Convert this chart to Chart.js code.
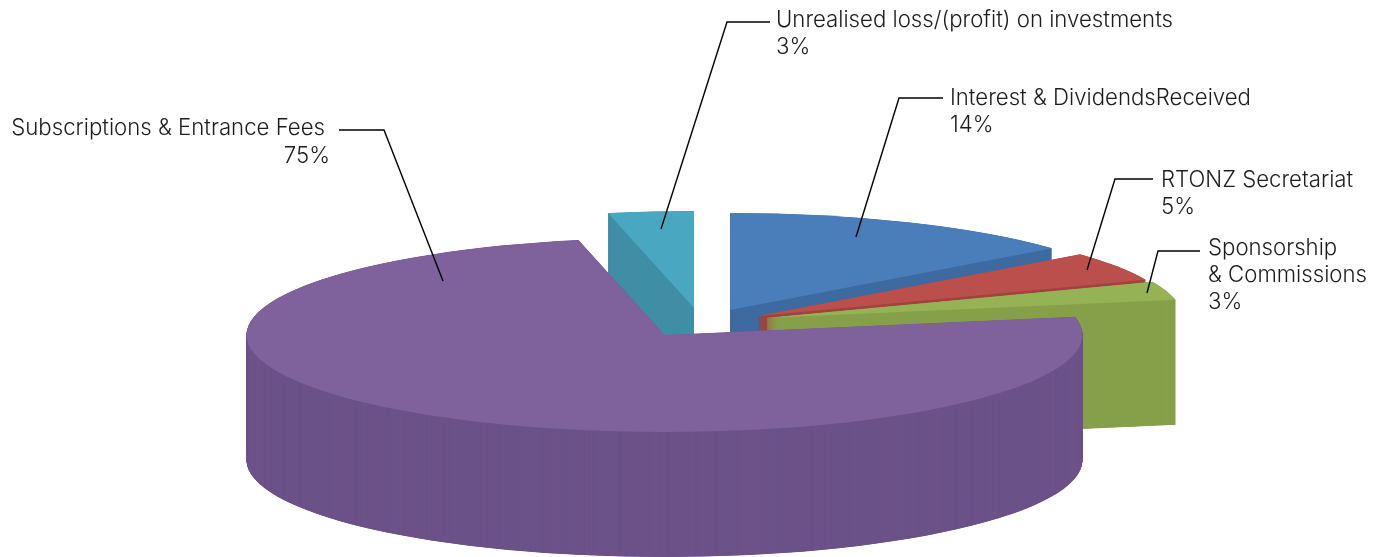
<!DOCTYPE html>
<html>
<head>
<meta charset="utf-8">
<style>
  html, body { margin: 0; padding: 0; background: #fff; overflow: hidden; }
  canvas { display: block; }
</style>
<script src="https://cdn.jsdelivr.net/npm/chart.js@4"></script>
</head>
<body>
<canvas id="myChart" width="1387" height="557"></canvas>
<script>
// Slices run clockwise from 12 o'clock
const categories = ['Interest & DividendsReceived', 'RTONZ Secretariat', 'Sponsorship & Commissions', 'Subscriptions & Entrance Fees', 'Unrealised loss/(profit) on investments'];
const seriesValues = [14, 4.9, 3.1, 74.7, 3.3];
const percentLabels = ['14%', '5%', '3%', '75%', '3%'];

const topColors = ['#4a7ebb', '#bb4f4c', '#95b355', '#7f619c', '#4aa7c2'];
const wallColors = ['#3f6ca2', '#a14441', '#87a14b', '#6c5389', '#3f8ea6'];

// 3D look: squash the round pie, extrude it downwards, pull slices away from the middle
const squash = 0.232;
const depth = 125;
const depthStep = 0.25;
const sliceShift = [[65.5, -25], [93.5, -19], [100.5, -17], [0, 0], [29.5, -27]];
const drawOrder = [4, 0, 1, 2, 3];

// Callouts: text lines and leader lines
const callouts = [
    { lines: [[categories[0], 950, 105], [percentLabels[0], 950, 132]], leader: [[856, 237], [899, 98], [943, 98]] },
    { lines: [[categories[1], 1161, 187], [percentLabels[1], 1161, 214]], leader: [[1087, 270], [1115, 179], [1153, 179]] },
    { lines: [['Sponsorship', 1208, 255], ['& Commissions', 1208, 282], [percentLabels[2], 1208, 309]], leader: [[1147, 293], [1158, 251], [1200, 251]] },
    { lines: [[categories[3], 325, 135], [percentLabels[3], 330, 163]], leader: [[443, 281], [384, 130], [339, 130]], right: true },
    { lines: [[categories[4], 776, 27], [percentLabels[4], 776, 54]], leader: [[661, 229], [727, 22], [770, 22]] },
];

function drawSlice(ctx, arc, index, lift, color) {
    const saved = arc.options;
    arc.options = { ...saved, backgroundColor: color };
    ctx.save();
    ctx.translate(arc.x + sliceShift[index][0], arc.y + sliceShift[index][1] + lift);
    ctx.scale(1, squash);
    ctx.translate(-arc.x, -arc.y);
    arc.draw(ctx);
    ctx.restore();
    arc.options = saved;
}

const pie3d = {
    id: 'pie3d',
    beforeDatasetsDraw(chart) {
        const arcs = chart.getDatasetMeta(0).data;
        const ctx = chart.ctx;
        drawOrder.forEach(i => {
            for (let d = depth; d > 0; d -= depthStep) {
                drawSlice(ctx, arcs[i], i, d, wallColors[i]);
            }
            drawSlice(ctx, arcs[i], i, 0, topColors[i]);
        });
        return false;
    },
    afterDraw(chart) {
        const ctx = chart.ctx;
        ctx.save();
        ctx.strokeStyle = '#000';
        ctx.lineWidth = 1.4;
        ctx.fillStyle = '#1c1c1c';
        ctx.font = '300 22.2px Inter';
        callouts.forEach(c => {
            ctx.beginPath();
            c.leader.forEach((p, n) => n ? ctx.lineTo(p[0], p[1]) : ctx.moveTo(p[0], p[1]));
            ctx.stroke();
            ctx.textAlign = c.right ? 'right' : 'left';
            c.lines.forEach(l => ctx.fillText(l[0], l[1], l[2]));
        });
        ctx.restore();
    }
};

new Chart(document.getElementById('myChart'), {
    type: 'pie',
    data: {
        labels: categories,
        datasets: [{ data: seriesValues, backgroundColor: topColors, borderWidth: 0 }]
    },
    options: {
        responsive: false,
        animation: false,
        radius: 418,
        layout: { padding: { right: 58, top: 113 } },
        plugins: { legend: { display: false }, tooltip: { enabled: false } }
    },
    plugins: [pie3d]
});
</script>
</body>
</html>
